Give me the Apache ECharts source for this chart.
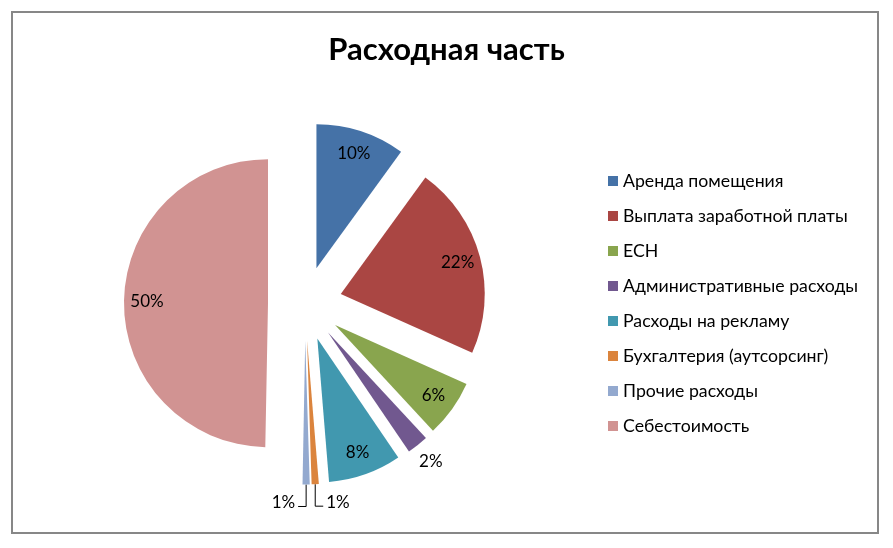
<!DOCTYPE html>
<html><head><meta charset="utf-8">
<script src="https://cdn.jsdelivr.net/npm/echarts@6/dist/echarts.min.js"></script>
<style>html,body{margin:0;padding:0;background:#fff}#c{width:893px;height:548px}</style>
</head><body><div id="c"></div>
<script>
const titleText = 'Расходная часть';
const categories = ['Аренда помещения', 'Выплата заработной платы', 'ЕСН', 'Административные расходы', 'Расходы на рекламу', 'Бухгалтерия (аутсорсинг)', 'Прочие расходы', 'Себестоимость'];
const shares = [10.0, 21.7, 6.4, 2.4, 8.2, 0.8, 0.8, 49.7];
const colors = ['#4572A7', '#AA4643', '#89A54E', '#71588F', '#4198AF', '#DB843D', '#93A9CF', '#D19392'];

const FONT = 'Lato, "Noto Sans", sans-serif';
const CX = 305, CY = 303.5, R = 144, OFFSET = 37;
const SMALL = 3, TINY = 1.5, GAP = 3;
const tinyIdx = shares.map((v, i) => v < TINY ? i : -1).filter(i => i >= 0);
const flipIdx = tinyIdx[tinyIdx.length - 1];
const pct = p => Math.round(p.percent) + '%';

const mainData = categories.map((name, i) => ({
  name, value: shares[i], selected: true,
  itemStyle: { color: colors[i] },
  label: { show: shares[i] < SMALL, position: 'outside' },
  labelLine: { show: shares[i] < TINY, length: shares[i] < TINY ? 22 : 21, length2: shares[i] < TINY ? 8 : 0 }
}));
const labelData = categories.map((name, i) => ({
  name, value: shares[i], selected: true,
  label: { show: shares[i] >= SMALL }
}));

const chart = echarts.init(document.getElementById('c'), null, { renderer: 'canvas' });
chart.setOption({
  animation: false,
  backgroundColor: '#fff',
  graphic: [{
    type: 'rect', silent: true, z: -10,
    shape: { x: 12, y: 12, width: 866, height: 521 },
    style: { fill: 'none', stroke: '#878787', lineWidth: 2 }
  }],
  title: {
    text: titleText, left: 'center', top: 34, padding: 0,
    textStyle: { fontFamily: FONT, fontSize: 31, fontWeight: 'bold', color: '#000' }
  },
  legend: {
    orient: 'vertical', left: 608, top: 171, padding: 0,
    itemWidth: 10, itemHeight: 10, itemGap: 15, icon: 'rect', selectedMode: false,
    data: categories,
    textStyle: { fontFamily: FONT, fontSize: 17.7, color: '#000', lineHeight: 20 }
  },
  series: [{
    type: 'pie', center: [CX, CY], radius: R, startAngle: 90, clockwise: true,
    selectedMode: 'multiple', selectedOffset: OFFSET, avoidLabelOverlap: false,
    silent: true,
    itemStyle: { borderWidth: 0 },
    emphasis: { disabled: true },
    select: { itemStyle: { borderWidth: 0 } },
    label: { fontFamily: FONT, fontSize: 17, color: '#000', formatter: pct, distanceToLabelLine: GAP },
    labelLine: { smooth: false, lineStyle: { color: '#000', width: 1 } },
    labelLayout: function (p) {
      const i = p.dataIndex;
      const pts = p.labelLinePoints;
      if (shares[i] < TINY && pts) {
        const p0 = pts[0], p1 = pts[1], p2 = pts[2];
        const len2 = Math.abs(p2[0] - p1[0]);
        if (i === flipIdx) {
          return {
            labelLinePoints: [p0, [p0[0], p1[1]], [p0[0] - len2, p1[1]]],
            dx: p0[0] - p1[0] - 2 * len2 - 2 * GAP, dy: -4, align: 'right'
          };
        }
        return {
          labelLinePoints: [p0, [p0[0], p1[1]], [p0[0] + len2, p1[1]]],
          dx: p0[0] - p1[0], dy: -4
        };
      }
      if (shares[i] < SMALL) {
        return { dx: -(p.labelRect.width / 2 + GAP) };
      }
    },
    data: mainData
  }, {
    type: 'pie', center: [CX, CY], radius: [92, R], startAngle: 90, clockwise: true,
    selectedMode: 'multiple', selectedOffset: OFFSET, silent: true,
    legendHoverLink: false,
    itemStyle: { color: 'rgba(0,0,0,0)', borderWidth: 0 },
    emphasis: { disabled: true },
    select: { itemStyle: { color: 'rgba(0,0,0,0)', borderWidth: 0 } },
    label: { position: 'inside', fontFamily: FONT, fontSize: 17, color: '#000', formatter: pct },
    labelLine: { show: false },
    data: labelData
  }]
});
</script></body></html>
